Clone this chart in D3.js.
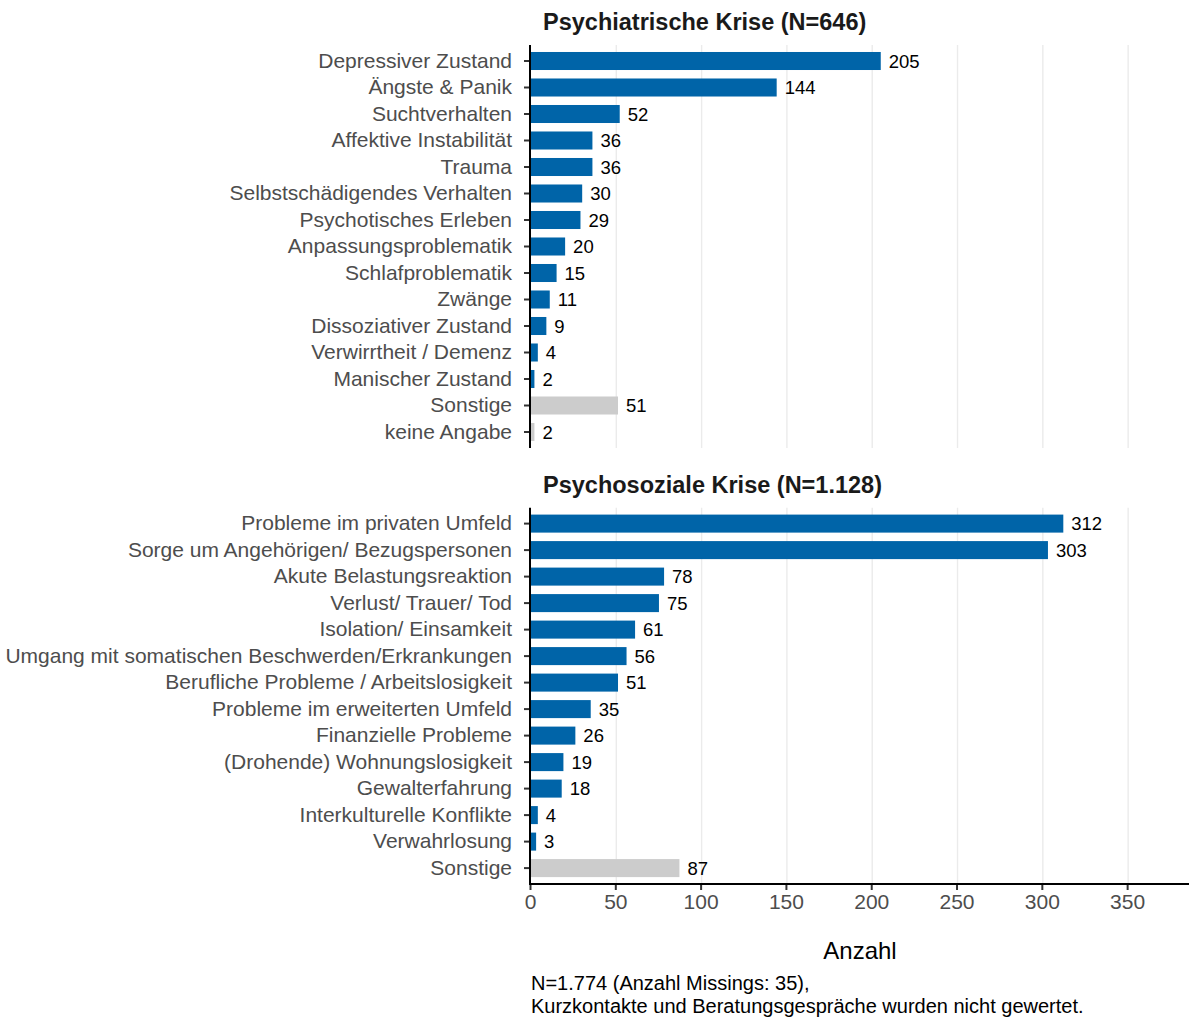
<!DOCTYPE html>
<html><head><meta charset="utf-8">
<script src="https://cdn.jsdelivr.net/npm/d3@7"></script>
<style>body{margin:0;background:#fff;}svg{display:block;font-family:"Liberation Sans",Arial,sans-serif;}</style>
</head><body>
<svg id="c" width="1189" height="1018"></svg>
<script>
const psychiatricCats = ["Depressiver Zustand","Ängste & Panik","Suchtverhalten","Affektive Instabilität","Trauma","Selbstschädigendes Verhalten","Psychotisches Erleben","Anpassungsproblematik","Schlafproblematik","Zwänge","Dissoziativer Zustand","Verwirrtheit / Demenz","Manischer Zustand","Sonstige","keine Angabe"];
const psychiatricValues = [205,144,52,36,36,30,29,20,15,11,9,4,2,51,2];
const psychiatricOther = [false,false,false,false,false,false,false,false,false,false,false,false,false,true,true];
const psychosocialCats = ["Probleme im privaten Umfeld","Sorge um Angehörigen/ Bezugspersonen","Akute Belastungsreaktion","Verlust/ Trauer/ Tod","Isolation/ Einsamkeit","Umgang mit somatischen Beschwerden/Erkrankungen","Berufliche Probleme / Arbeitslosigkeit","Probleme im erweiterten Umfeld","Finanzielle Probleme","(Drohende) Wohnungslosigkeit","Gewalterfahrung","Interkulturelle Konflikte","Verwahrlosung","Sonstige"];
const psychosocialValues = [312,303,78,75,61,56,51,35,26,19,18,4,3,87];
const psychosocialOther = [false,false,false,false,false,false,false,false,false,false,false,false,false,true];
const xTicks = [0,50,100,150,200,250,300,350];
const titles = ["Psychiatrische Krise (N=646)","Psychosoziale Krise (N=1.128)"];
const xLabel = "Anzahl";
const caption = ["N=1.774 (Anzahl Missings: 35),","Kurzkontakte und Beratungsgespräche wurden nicht gewertet."];

const svg = d3.select("#c");
const x = d3.scaleLinear().domain([0,384.5]).range([531,1187]);
const BLUE = "#0064a8", GREY = "#cccccc";
const FONT = "'Liberation Sans',Arial,sans-serif";

function panel(cats, vals, other, top, bottom, title, titleY, showX){
  const y = d3.scaleBand().domain(cats).range([top,bottom]).paddingInner(0.32).paddingOuter(0.26);
  const g = svg.append("g");
  g.selectAll("line.grid").data(xTicks.filter(d=>d>0)).enter().append("line")
    .attr("x1",d=>x(d)).attr("x2",d=>x(d)).attr("y1",top).attr("y2",bottom)
    .attr("stroke","#ebebeb").attr("stroke-width",1.4);
  const data = cats.map((c,i)=>({c, v:vals[i], o:other[i]}));
  g.selectAll("rect").data(data).enter().append("rect")
    .attr("x",x(0)).attr("y",d=>y(d.c)).attr("height",y.bandwidth())
    .attr("width",d=>x(d.v)-x(0)).attr("fill",d=>d.o?GREY:BLUE);
  g.selectAll("text.val").data(data).enter().append("text")
    .attr("x",d=>x(d.v)+8).attr("y",d=>y(d.c)+y.bandwidth()/2).attr("dy","0.36em")
    .attr("font-size",18.5).attr("fill","#000").text(d=>d.v);
  const ya = d3.axisLeft(y).tickSize(6).tickPadding(12);
  const ag = g.append("g").attr("transform",`translate(${x(0)-1},0)`).call(ya);
  ag.select(".domain").remove();
  ag.selectAll(".tick line").attr("stroke","#333").attr("stroke-width",2);
  ag.selectAll(".tick text").attr("font-size",21).attr("fill","#4d4d4d").attr("font-family",FONT);
  g.append("line").attr("x1",x(0)-1).attr("x2",x(0)-1).attr("y1",top).attr("y2",bottom)
    .attr("stroke","#000").attr("stroke-width",2);
  svg.append("text").attr("x",543).attr("y",titleY).attr("font-size",23.5).attr("font-weight","bold")
    .attr("fill","#1a1a1a").text(title);
  if(showX){
    const xa = d3.axisBottom(x).tickValues(xTicks).tickSize(6).tickPadding(4);
    const xg = svg.append("g").attr("transform",`translate(-1,${bottom})`).call(xa);
    xg.select(".domain").remove();
    xg.selectAll(".tick line").attr("stroke","#333").attr("stroke-width",2);
    xg.selectAll(".tick text").attr("font-size",21).attr("fill","#4d4d4d").attr("font-family",FONT);
    svg.append("line").attr("x1",x(0)-2).attr("x2",1189).attr("y1",bottom).attr("y2",bottom)
      .attr("stroke","#000").attr("stroke-width",2);
  }
}
panel(psychiatricCats, psychiatricValues, psychiatricOther, 45.1, 447.9, titles[0], 30, false);
panel(psychosocialCats, psychosocialValues, psychosocialOther, 507.7, 884, titles[1], 493, true);

svg.append("text").attr("x",860).attr("y",959).attr("text-anchor","middle").attr("font-size",24)
  .attr("fill","#000").text(xLabel);
svg.selectAll("text.cap").data(caption).enter().append("text")
  .attr("x",531).attr("y",(d,i)=>990+i*22.5).attr("font-size",20).attr("fill","#000").text(d=>d);
</script>
</body></html>
